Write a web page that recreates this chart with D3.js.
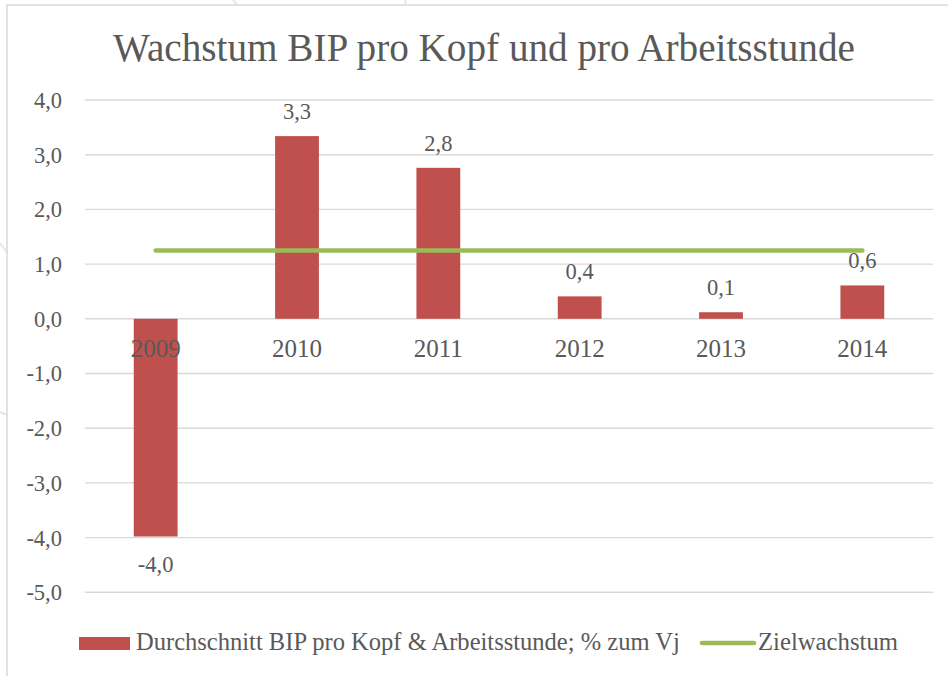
<!DOCTYPE html>
<html><head><meta charset="utf-8">
<script src="https://cdn.jsdelivr.net/npm/d3@7"></script>
<style>
html,body{margin:0;padding:0;background:#fff;}
svg{display:block;}
text{font-family:"Liberation Serif","Times New Roman",serif;fill:#595959;}
</style></head>
<body>
<svg id="chart" width="948" height="676"></svg>
<script>
const title = "Wachstum BIP pro Kopf und pro Arbeitsstunde";
const years = ["2009","2010","2011","2012","2013","2014"];
const growth = [-3.98, 3.34, 2.76, 0.41, 0.12, 0.61];
const target = [1.25, 1.25, 1.25, 1.25, 1.25, 1.25];
const yTicks = [4, 3, 2, 1, 0, -1, -2, -3, -4, -5];
const seriesNames = ["Durchschnitt BIP pro Kopf & Arbeitsstunde; % zum Vj", "Zielwachstum"];

const barColor = "#c0504d", lineColor = "#9bbb59", gridColor = "#d9d9d9";
const svg = d3.select("#chart");

// decorative faint background arcs outside frame
svg.append("path").attr("d","M233,0 Q236,4 240,8").attr("stroke","#d6ebf7").attr("stroke-width",2).attr("fill","none");
svg.append("path").attr("d","M405,0 Q406,4 406,8").attr("stroke","#d6ebf7").attr("stroke-width",2).attr("fill","none");
svg.append("path").attr("d","M0,243 Q4,248 8,254").attr("stroke","#d6ebf7").attr("stroke-width",2).attr("fill","none");
svg.append("path").attr("d","M0,412 Q4,414 8,415").attr("stroke","#d6ebf7").attr("stroke-width",2).attr("fill","none");

// frame
svg.append("rect").attr("x",7).attr("y",5).attr("width",1000).attr("height",800)
  .attr("fill","#fff").attr("stroke",gridColor).attr("stroke-width",1.5);

const x = d3.scaleBand().domain(years).range([85, 933]).paddingInner(0.69).paddingOuter(0.345);
const y = d3.scaleLinear().domain([-5, 4]).range([592.3, 100]);
const fmt = v => d3.format(".1f")(v).replace(".", ",").replace("−","-");

function fit(sel, w){
  const n = sel.node(); const fs = parseFloat(sel.attr("font-size"));
  const len = n.getComputedTextLength();
  sel.attr("font-size", fs * w / len);
}

// title
const t = svg.append("text").attr("x",484).attr("y",61).attr("text-anchor","middle")
  .attr("font-size",38).text(title);
fit(t, 742);

// grid
svg.append("g").selectAll("line").data(yTicks).join("line")
  .attr("x1",85).attr("x2",933).attr("y1",d=>y(d)).attr("y2",d=>y(d))
  .attr("stroke",gridColor).attr("stroke-width",1.4);

// y axis labels
const yAxis = d3.axisLeft(y).tickValues(yTicks).tickSize(0).tickPadding(0).tickFormat(fmt);
const gy = svg.append("g").attr("transform","translate(62,0)").call(yAxis);
gy.select(".domain").remove();
gy.selectAll("text").attr("font-size",22.5).attr("font-family","Liberation Serif").attr("fill","#595959").attr("dy","0.33em");

// bars
svg.append("g").selectAll("rect").data(years).join("rect")
  .attr("x", d=>x(d)).attr("width", x.bandwidth())
  .attr("y", (d,i)=>Math.min(y(growth[i]), y(0)))
  .attr("height", (d,i)=>Math.abs(y(growth[i]) - y(0)))
  .attr("fill", barColor);

// category labels
const xAxis = d3.axisBottom(x).tickSize(0).tickPadding(0);
const gx = svg.append("g").attr("transform","translate(0,"+y(0)+")").call(xAxis);
gx.select(".domain").remove();
gx.selectAll("text").attr("font-size",25).attr("font-family","Liberation Serif").attr("fill","#595959").attr("dy",null).attr("y",38);

// target line
const line = d3.line().x((d,i)=>x(years[i]) + x.bandwidth()/2).y(d=>y(d));
svg.append("path").datum(target).attr("d", line).attr("fill","none")
  .attr("stroke", lineColor).attr("stroke-width",4.5).attr("stroke-linecap","round");

// data labels
svg.append("g").selectAll("text").data(years).join("text")
  .attr("x", d=>x(d)+x.bandwidth()/2)
  .attr("y", (d,i)=> growth[i] >= 0 ? y(growth[i]) - 17 : y(growth[i]) + 35)
  .attr("text-anchor","middle").attr("font-size",22.5)
  .text((d,i)=>fmt(growth[i]));

// legend
svg.append("rect").attr("x",79).attr("y",637).attr("width",51).attr("height",13).attr("fill",barColor);
const l1 = svg.append("text").attr("x",136).attr("y",650).attr("font-size",22).text(seriesNames[0]);
fit(l1, 544);
svg.append("line").attr("x1",702).attr("x2",754).attr("y1",643).attr("y2",643)
  .attr("stroke",lineColor).attr("stroke-width",4.5).attr("stroke-linecap","round");
const l2 = svg.append("text").attr("x",758).attr("y",650).attr("font-size",22).text(seriesNames[1]);
fit(l2, 140);
</script>
</body></html>
